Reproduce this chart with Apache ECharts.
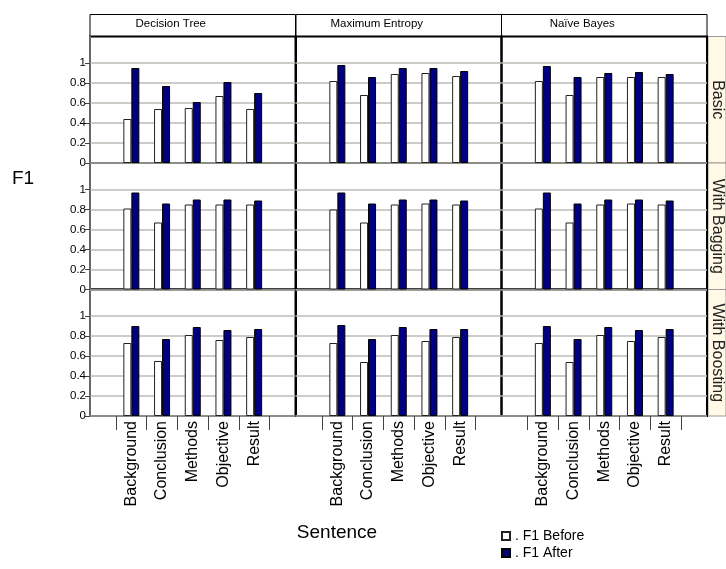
<!DOCTYPE html>
<html>
<head>
<meta charset="utf-8">
<script src="https://cdn.jsdelivr.net/npm/echarts@6/dist/echarts.min.js"></script>
<style>
  html, body { margin: 0; padding: 0; background: #fff; }
  #main { width: 726px; height: 569px; }
</style>
</head>
<body>
<div id="main"></div>
<script>
// 数据
let categories = ['Background', 'Conclusion', 'Methods', 'Objective', 'Result']
let models = ['Decision Tree', 'Maximum Entropy', 'Naïve Bayes']
let methods = ['Basic', 'With Bagging', 'With Boosting']
let seriesNames = ['F1 Before', 'F1 After']
let yTicks = [0, 0.2, 0.4, 0.6, 0.8, 1]

// Basic
let dtBasicBefore = [0.44, 0.54, 0.55, 0.67, 0.54]
let dtBasicAfter = [0.95, 0.77, 0.61, 0.81, 0.70]
let meBasicBefore = [0.82, 0.68, 0.89, 0.90, 0.87]
let meBasicAfter = [0.98, 0.86, 0.95, 0.95, 0.92]
let nbBasicBefore = [0.82, 0.68, 0.86, 0.86, 0.86]
let nbBasicAfter = [0.97, 0.86, 0.90, 0.91, 0.89]
// With Bagging
let dtBagBefore = [0.81, 0.67, 0.85, 0.85, 0.85]
let dtBagAfter = [0.97, 0.86, 0.90, 0.90, 0.89]
let meBagBefore = [0.80, 0.67, 0.85, 0.86, 0.85]
let meBagAfter = [0.97, 0.86, 0.90, 0.90, 0.89]
let nbBagBefore = [0.81, 0.67, 0.85, 0.86, 0.85]
let nbBagAfter = [0.97, 0.86, 0.90, 0.90, 0.89]
// With Boosting
let dtBoostBefore = [0.73, 0.55, 0.81, 0.76, 0.79]
let dtBoostAfter = [0.90, 0.77, 0.89, 0.86, 0.87]
let meBoostBefore = [0.73, 0.54, 0.81, 0.75, 0.79]
let meBoostAfter = [0.91, 0.77, 0.89, 0.87, 0.87]
let nbBoostBefore = [0.73, 0.54, 0.81, 0.75, 0.79]
let nbBoostAfter = [0.90, 0.77, 0.89, 0.86, 0.87]

// [行][列] = [before, after]
let panelData = [
  [[dtBasicBefore, dtBasicAfter], [meBasicBefore, meBasicAfter], [nbBasicBefore, nbBasicAfter]],
  [[dtBagBefore, dtBagAfter], [meBagBefore, meBagAfter], [nbBagBefore, nbBagAfter]],
  [[dtBoostBefore, dtBoostAfter], [meBoostBefore, meBoostAfter], [nbBoostBefore, nbBoostAfter]]
]

// 布局
let font = "'Liberation Sans', Arial, sans-serif"
let colX = [90, 296, 501.5]
let colW = 205.5
let rowY = [36.5, 163, 289.5]
let rowH = 126.5
let innerOffset = 26
let innerW = 153.5
let yMax = rowH / 100
let headerTop = 14.5

let grids = [], xAxes = [], yAxes = [], series = [], graphics = []

for (let r = 0; r < 3; r++) {
  for (let c = 0; c < 3; c++) {
    let outer = grids.length
    grids.push({
      left: colX[c], top: rowY[r], width: colW, height: rowH,
      show: true, borderColor: '#000', borderWidth: 2
    })
    xAxes.push({ gridIndex: outer, type: 'value', show: false })
    yAxes.push({
      gridIndex: outer, type: 'value', min: 0, max: yMax,
      axisLine: { show: c === 0, lineStyle: { color: '#8a8a8a', width: 1.5 } },
      axisTick: { show: c === 0, length: 5, customValues: yTicks, lineStyle: { color: '#444' } },
      axisLabel: { show: c === 0, customValues: yTicks, fontSize: 11.5, margin: 4, color: '#000', fontFamily: font },
      splitLine: { show: true, lineStyle: { color: '#bdbdb5', width: 1.5 } }
    })

    let inner = grids.length
    grids.push({ left: colX[c] + innerOffset, top: rowY[r], width: innerW, height: rowH })
    xAxes.push({
      gridIndex: inner, type: 'category', data: categories,
      axisLine: { show: false },
      axisTick: { show: r === 2, length: 14, lineStyle: { color: '#444', width: 1 } },
      axisLabel: { show: r === 2, rotate: 90, fontSize: 16, margin: 5, color: '#000', fontFamily: font }
    })
    yAxes.push({ gridIndex: inner, type: 'value', min: 0, max: yMax, show: false })

    let [before, after] = panelData[r][c]
    series.push({
      name: seriesNames[0], type: 'bar', xAxisIndex: inner, yAxisIndex: inner,
      data: before, barWidth: 8, barGap: '0%',
      itemStyle: { color: '#fff', borderColor: '#222', borderWidth: 1 }
    })
    series.push({
      name: seriesNames[1], type: 'bar', xAxisIndex: inner, yAxisIndex: inner,
      data: after, barWidth: 8, barGap: '0%',
      itemStyle: { color: '#000080', borderColor: '#000', borderWidth: 1 }
    })
  }
}

// 顶部模型标题
models.forEach((m, c) => {
  graphics.push({
    type: 'rect', z: -1,
    shape: { x: colX[c], y: headerTop, width: colW, height: rowY[0] - headerTop },
    style: { fill: '#fff', stroke: '#000', lineWidth: 1 }
  })
  graphics.push({
    type: 'text', x: colX[c] + colW / 2 - 22, y: 23.5,
    style: { text: m, fontSize: 11.5, fontFamily: font, fill: '#000', align: 'center', verticalAlign: 'middle' }
  })
})

// 右侧方法标签
let stripX = colX[2] + colW + 1
methods.forEach((m, r) => {
  graphics.push({
    type: 'rect', z: -1,
    shape: { x: stripX, y: rowY[r], width: 726 - stripX, height: rowH },
    style: { fill: '#fff9e6', stroke: '#9a9a9a', lineWidth: 1 }
  })
  graphics.push({
    type: 'text', x: stripX + 9.5, y: rowY[r] + rowH / 2, rotation: -Math.PI / 2,
    style: { text: m, fontSize: 16, fontFamily: font, fill: '#222', align: 'center', verticalAlign: 'middle' }
  })
})

graphics.push({
  type: 'text', x: 23, y: 179,
  style: { text: 'F1', fontSize: 19, fontFamily: font, fill: '#000', align: 'center', verticalAlign: 'middle' }
})
graphics.push({
  type: 'text', x: 337, y: 533,
  style: { text: 'Sentence', fontSize: 19, fontFamily: font, fill: '#000', align: 'center', verticalAlign: 'middle' }
})

let myChart = echarts.init(document.getElementById('main'))

let option = {
  animation: false,
  grid: grids,
  xAxis: xAxes,
  yAxis: yAxes,
  series: series,
  graphic: graphics,
  legend: {
    data: seriesNames.map(name => ({ name: name, icon: 'rect' })),
    orient: 'vertical',
    left: 501, top: 529, height: 60,
    padding: 0,
    itemWidth: 8, itemHeight: 8, itemGap: 3,
    formatter: '. {name}',
    textStyle: { fontSize: 14, fontFamily: font, color: '#000' }
  }
}

myChart.setOption(option)
</script>
</body>
</html>
